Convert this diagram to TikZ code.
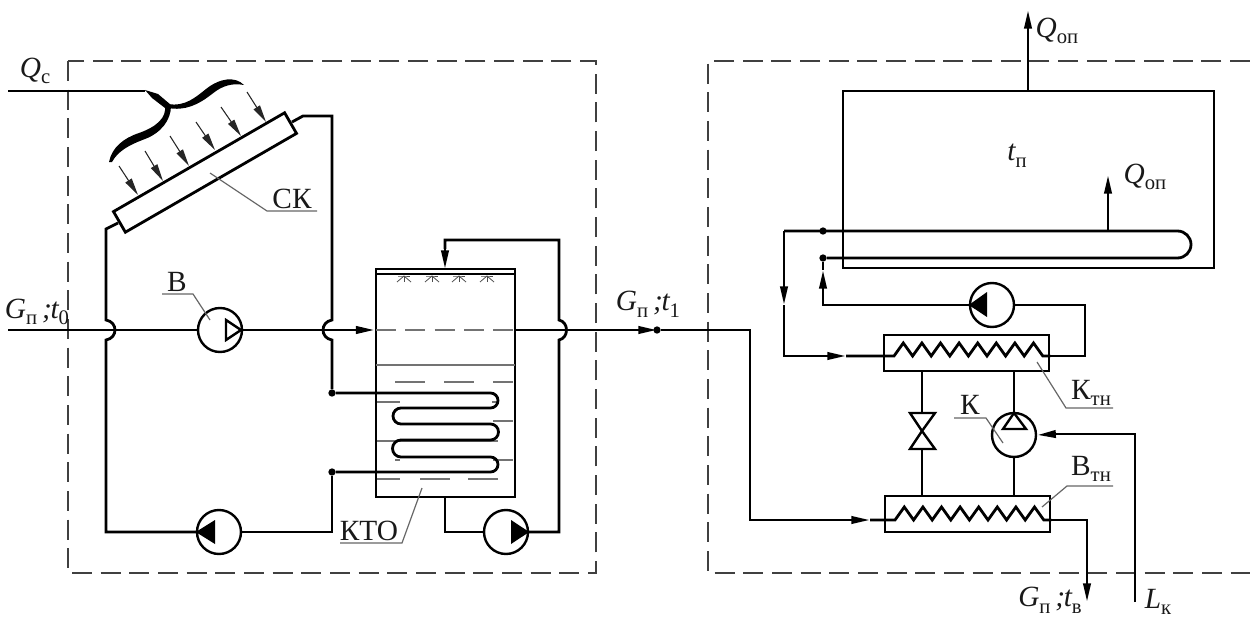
\documentclass[tikz,border=0pt]{standalone}
\usepackage{fontspec}
\setmainfont{Liberation Serif}
\usetikzlibrary{arrows.meta}
\def\pxu{0.75pt}
\newcommand{\lsub}[1]{\raisebox{-0.5ex}{\fontsize{15.5pt}{15.5pt}\selectfont #1}}
\newcommand{\varsub}[2]{{\itshape #1}\lsub{#2}}
\tikzset{
  pipe/.style={line width=2.1pt,black,line join=miter},
  thinl/.style={line width=0.9pt,black!60},
  dashbox/.style={line width=0.9pt,black!75,dash pattern=on 15pt off 6.5pt},
  inner/.style={line width=1pt,black!55},
  tipped/.style={pipe,-{Stealth[length=14pt,width=5.5pt,inset=0pt]}},
  sun/.style={line width=0.8pt,black!85,-{Stealth[length=13pt,width=5.5pt,inset=0pt]}},
  pumpnode/.style={circle,draw,line width=1.8pt,black,minimum size=44*\pxu,inner sep=0pt,fill=white},
  box/.style={rectangle,draw,line width=2.1pt,black,inner sep=0pt},
  lab/.style={inner sep=0pt,font=\fontsize{22pt}{24pt}\selectfont,text=black!90},
  dot/.style={circle,fill=black,inner sep=0pt,minimum size=5.5pt},
}
\begin{document}
\begin{tikzpicture}[x=0.75pt,y=-0.75pt]
\useasboundingbox (0,0) rectangle (1250,617);
% dashed boundaries
\draw[dashbox] (68,61) rectangle (596,573);
\draw[dashbox] (1250,61) -- (708,61) -- (708,573) -- (1250,573);

% ---------- solar collector
\node[box,rotate=30,minimum width=197.6*\pxu,minimum height=23.8*\pxu] (sk) at (205,172.5) {};
\foreach \a/\b/\c/\d in {119/166/138/195,145/151/163/181,170/136/189/166,196/122/215/150,221/107/241/136,247/92/266/122}
  \draw[sun] (\a,\b) -- (\c,\d);
\fill[black] (165,105) .. controls (167,118) and (156,127) .. (139,133) .. controls (124,138) and (112,147) .. (109,162)
  -- (112,162) .. controls (118,151) and (129,145) .. (145,139) .. controls (161,133) and (171,120) .. (171,106) -- cycle;
\fill[black] (168,104) .. controls (185,107) and (196,97) .. (206,89) .. controls (220,78) and (235,76) .. (244,85)
  .. controls (233,83) and (223,85) .. (212,94) .. controls (198,105) and (185,111) .. (168,108) -- cycle;
\coordinate (qs) at (8,91);
\coordinate (qe) at (145,91);
\draw[pipe] (qs) -- (qe);
\fill[black] (145,90) -- (158,94) -- (171,105) -- (165,108) -- (152,98) -- cycle;

% ---------- tank
\node[box,minimum width=139*\pxu,minimum height=228*\pxu] (tank) at (445.5,383) {};
\coordinate (tl) at (376,274); \coordinate (tr) at (515,274);
\draw[line width=1.5pt,black] (tl) -- (tr);
\foreach \x in {404,432,459,487}{
  \draw[line width=0.6pt,black!70] (\x-7,282) -- (\x,276) -- (\x+7,282);
  \draw[line width=0.6pt,black!70] (\x,276) -- (\x,282);
  \draw[line width=0.6pt,black!70] (\x-6,276) -- (\x,276) -- (\x+6,276);
}
% liquid marks
\draw[inner,dash pattern=on 15pt off 7pt] (376,330) -- (515,330);
\draw[inner] (376,365) -- (515,365);
\foreach \a/\b/\y in {395/425/382,444/474/382,493/513/382,377/400/402,492/497/402,493/513/421,377/498/441,395/400/460,493/513/460,377/400/479,420/450/479,468/498/479}
  \draw[inner] (\a,\y) -- (\b,\y);

% ---------- pumps
\node[pumpnode] (pv) at (220,330) {};
\node[pumpnode] (pc) at (219,532) {};
\node[pumpnode] (pt) at (506,532) {};
\node[pumpnode] (pr) at (992,305) {};
\node[pumpnode] (kp) at (1014,435) {};
\draw[line width=1.8pt,black,line join=miter] (226,320) -- (241,330) -- (226,340) -- cycle;
\fill[black] (pc.west) -- (215,520) -- (215,544) -- cycle;
\fill[black] (pt.east) -- (511,520) -- (511,544) -- cycle;
\fill[black] (pr.west) -- (987,292) -- (987,317) -- cycle;
\draw[line width=1.8pt,black,line join=miter] (1014,413) -- (1026,429) -- (1003,429) -- cycle;

% ---------- main process line
\coordinate (gin) at (8,330);
\coordinate (node1) at (657,330);
\coordinate (corner1) at (750,330);
\coordinate (corner2) at (750,520);
\draw[pipe] (gin) -- (pv.west);
\draw[pipe] (pv.east) -- (357,330);
\coordinate (m1) at (357,330);
\draw[tipped] (m1) -- (tank.west |- 0,330);
\coordinate (t1a) at (tank.east |- 0,330);
\coordinate (t1b) at (632,330);
\draw[pipe] (t1a) -- (t1b);
\draw[tipped] (t1b) -- (node1);
\node[dot] (nd1) at (node1) {};
\draw[pipe] (nd1) -- (corner1) -- (corner2) -- (852,520);
\coordinate (m2) at (852,520);

% ---------- collector loop
\coordinate (ska) at (292,122); \coordinate (skb) at (303,116); \coordinate (skc) at (332,116);
\coordinate (hr1) at (332,320); \coordinate (hr2) at (332,340);
\node[dot] (coilt) at (332,393) {};
\node[dot] (coilb) at (332,472) {};
\draw[pipe] (ska) -- (skb) -- (skc) -- (hr1) .. controls (320,322) and (320,338) .. (hr2) -- (coilt);
\draw[pipe] (coilt) -- (490.5,393) arc[start angle=-90,end angle=90,radius=7.5]
  -- (401,408) arc[start angle=-90,end angle=-270,radius=8]
  -- (490.5,424) arc[start angle=-90,end angle=90,radius=8]
  -- (401,440) arc[start angle=-90,end angle=-270,radius=8.5]
  -- (490.5,457) arc[start angle=-90,end angle=90,radius=7.5] -- (coilb);
\coordinate (cbl) at (332,532);
\draw[pipe] (coilb) -- (cbl) -- (pc.east);
\coordinate (skd) at (118,223); \coordinate (ske) at (106,229);
\coordinate (hl1) at (106,320); \coordinate (hl2) at (106,340); \coordinate (cbr) at (106,532);
\draw[pipe] (skd) -- (ske) -- (hl1) .. controls (118,322) and (118,338) .. (hl2) -- (cbr) -- (pc.west);

% ---------- tank recirculation
\coordinate (ta) at (445,497); \coordinate (tb) at (445,532);
\draw[pipe] (ta) -- (tb) -- (pt.west);
\coordinate (rc) at (559,532); \coordinate (rb) at (559,340); \coordinate (rd) at (559,320);
\coordinate (re) at (559,240); \coordinate (rf) at (445,240); \coordinate (rg) at (445,269);
\coordinate (rh) at (445,249);
\draw[pipe] (pt.east) -- (rc) -- (rb) .. controls (569,338) and (569,322) .. (rd) -- (re) -- (rf) -- (rh);
\draw[tipped] (rh) -- (rg);

% ---------- heated room
\node[box,minimum width=371*\pxu,minimum height=177*\pxu] (room) at (1028.5,179.5) {};
\coordinate (qt) at (1028,10);
\draw[tipped] (room.north -| 1028,0) -- (qt);
\coordinate (lu) at (784,231);
\node[dot] (d1) at (823,231) {};
\node[dot] (d2) at (823,258) {};
\draw[pipe] (lu) -- (1177.5,231) arc[start angle=-90,end angle=90,radius=13.5] -- (d2);
\coordinate (qi) at (1108,175); \coordinate (qib) at (1108,231);
\draw[pipe,-{Stealth[length=14pt,width=5.5pt,inset=0pt]}] (qib) -- (qi);
\coordinate (ldd) at (784,305); \coordinate (lde) at (784,356); \coordinate (ldf) at (846,356);
\draw[tipped] (lu) -- (ldd);
\coordinate (ldg) at (828,356);
\draw[pipe] (ldd) -- (lde) -- (ldg);
\draw[tipped] (ldg) -- (ldf);

% ---------- heat exchangers
\node[box,minimum width=165*\pxu,minimum height=36*\pxu,fill=white] (kond) at (966.5,353) {};
\node[box,minimum width=165*\pxu,minimum height=36*\pxu,fill=white] (evap) at (967.5,514) {};
\draw[pipe] (ldf) -- (kond.west |- 0,356) -- (894,356)
  \foreach \i in {1,...,8}{ -- ({894+18.6*(\i-1)+9.3},343) -- ({894+18.6*\i},356) } -- (kond.east |- 0,356);
\coordinate (k1) at (1085,356); \coordinate (k2) at (1085,305);
\draw[pipe] (kond.east |- 0,356) -- (k1) -- (k2) -- (pr.east);
\coordinate (r1) at (823,305);
\coordinate (r2) at (823,286);
\coordinate (r3) at (823,270);
\draw[pipe] (pr.west) -- (r1) -- (r2);
\draw[tipped] (r2) -- (r3);
\draw[pipe] (r3) -- (d2);
\coordinate (e0) at (870,520);
\draw[tipped] (m2) -- (e0);
\draw[pipe] (e0) -- (evap.west |- 0,520) -- (895,520)
  \foreach \i in {1,...,8}{ -- ({895+18.6*(\i-1)+9.3},507) -- ({895+18.6*\i},520) } -- (evap.east |- 0,520);
\coordinate (o1) at (1087,520); \coordinate (o2) at (1087,582); \coordinate (o3) at (1087,602);
\draw[pipe] (evap.east |- 0,520) -- (o1) -- (o2);
\draw[tipped] (o2) -- (o3);

% ---------- valve & compressor connections
\coordinate (v0) at (922,431);
\draw[pipe] (kond.south -| 922,0) -- (922,413);
\draw[pipe] (922,449) -- (evap.north -| 922,0);
\draw[line width=1.8pt,black,line join=miter] (910,413) -- (935,413) -- (v0) -- (910,449) -- (935,449) -- (v0) -- cycle;
\draw[pipe] (kond.south -| 1014,0) -- (kp.north);
\draw[pipe] (kp.south) -- (evap.north -| 1014,0);
\coordinate (l1) at (1135,602); \coordinate (l2) at (1135,434); \coordinate (l3) at (1056,434);
\draw[pipe] (l1) -- (l2) -- (l3);
\draw[tipped] (l3) -- (kp.east);

% ---------- leaders
\coordinate (a1) at (210,173); \coordinate (a2) at (267,211); \coordinate (a3) at (317,211);
\draw[thinl] (a1) -- (a2) -- (a3);
\coordinate (b1) at (162,294); \coordinate (b2) at (193,294); \coordinate (b3) at (210,320);
\draw[thinl] (b1) -- (b2) -- (b3);
\coordinate (c1) at (422,488); \coordinate (c2) at (402,543); \coordinate (c3) at (340,543);
\draw[thinl] (c1) -- (c2) -- (c3);
\coordinate (e1) at (1037,362); \coordinate (e2) at (1066,408); \coordinate (e3) at (1113,408);
\draw[thinl] (e1) -- (e2) -- (e3);
\coordinate (f1) at (954,418); \coordinate (f2) at (986,418); \coordinate (f3) at (1003,443);
\draw[thinl] (f1) -- (f2) -- (f3);
\coordinate (g1) at (1042,507); \coordinate (g2) at (1067,486); \coordinate (g3) at (1113,486);
\draw[thinl] (g1) -- (g2) -- (g3);

% ---------- labels
\node[lab] (tQc) at (35,71) {\varsub{Q}{с}};
\node[lab] (tG0) at (37,312) {\varsub{G}{п}\,\textit{;}\kern-1pt\varsub{t}{0}};
\node[lab] (tG1) at (648,304) {\varsub{G}{п}\,\textit{;}\kern-1pt\varsub{t}{1}};
\node[lab] (tGv) at (1050,600) {\varsub{G}{п}\,\textit{;}\kern-1pt\varsub{t}{в}};
\node[lab] (tL) at (1158,602) {\varsub{L}{к}};
\node[lab] (tQ1) at (1057,31) {\varsub{Q}{оп}};
\node[lab] (tQ2) at (1145,177) {\varsub{Q}{оп}};
\node[lab] (ttp) at (1017,156) {\varsub{t}{п}};
\node[lab] (tB) at (177,282) {В};
\node[lab] (tSK) at (292,199) {СК};
\node[lab] (tKTO) at (369,531) {КТО};
\node[lab] (tKt) at (1091,393) {К\lsub{тн}};
\node[lab] (tK) at (970,405) {К};
\node[lab] (tBt) at (1091,469) {В\lsub{тн}};
\end{tikzpicture}
\end{document}
